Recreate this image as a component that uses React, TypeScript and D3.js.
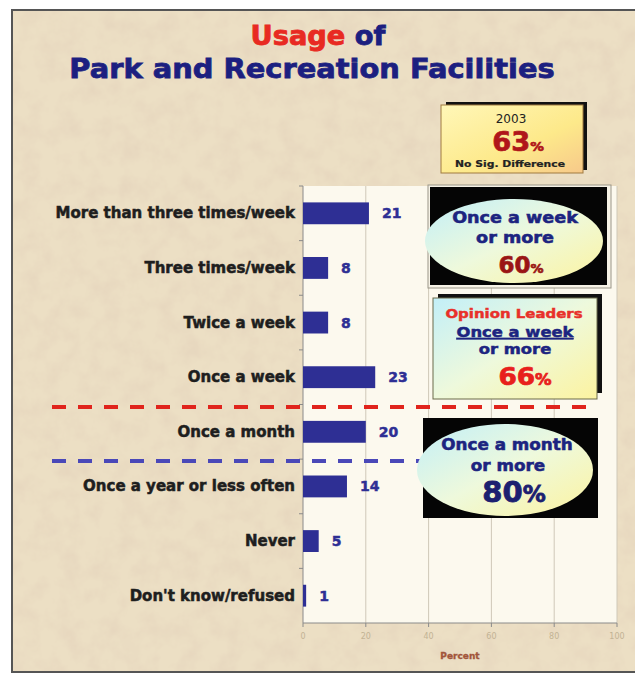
import React from "react";
import * as d3 from "d3";

const categories = [
  "More than three times/week",
  "Three times/week",
  "Twice a week",
  "Once a week",
  "Once a month",
  "Once a year or less often",
  "Never",
  "Don't know/refused",
];
const values = [21, 8, 8, 23, 20, 14, 5, 1];
const xTicks = [0, 20, 40, 60, 80, 100];

const W = 635;
const H = 675;
const plot = { left: 303, right: 617, top: 186, bottom: 623 };
const FONT = "DejaVu Sans, Verdana, sans-serif";

function T(props: {
  x: number; y: number; size: number; sx?: number; fill: string; weight?: number; sw?: number;
  anchor?: "start" | "middle" | "end"; deco?: string; children: React.ReactNode;
}) {
  const { x, y, size, sx = 1, fill, weight = 700, anchor = "middle", deco, children, sw } = props;
  const strokeW = sw !== undefined ? sw : weight >= 700 ? Math.min(0.7, size * 0.035) : 0;
  return (
    <text
      transform={`translate(${x},${y}) scale(${sx},1)`}
      textAnchor={anchor}
      fontSize={size}
      fill={fill}
      stroke={strokeW > 0 ? fill : "none"}
      strokeWidth={strokeW}
      fontFamily={FONT}
      fontWeight={weight}
      textDecoration={deco}
    >
      {children}
    </text>
  );
}

export default function App() {
  const x = d3.scaleLinear().domain([0, 100]).range([plot.left, plot.right]);
  const y = d3.scaleBand<string>().domain(categories).range([plot.top, plot.bottom]).paddingInner(0.6).paddingOuter(0.3);
  const yb = d3.scaleBand<string>().domain(categories).range([plot.top, plot.bottom]);
  const navy = "#2e2f94";

  return (
    <svg width={W} height={H} style={{ position: "absolute", left: 0, top: 0 }}>
      <defs>
        <filter id="parch" x="0" y="0" width="100%" height="100%">
          <feTurbulence type="fractalNoise" baseFrequency="0.05" numOctaves="4" seed="7" result="n" />
          <feColorMatrix type="matrix" values="0 0 0 0 0.74  0 0 0 0 0.6  0 0 0 0 0.47  0 0 0 0.8 -0.3" />
        </filter>
        <linearGradient id="gYellow" x1="0" y1="0" x2="1" y2="1">
          <stop offset="0" stopColor="#fff7b8" />
          <stop offset="0.6" stopColor="#fde98a" />
          <stop offset="1" stopColor="#f7c98a" />
        </linearGradient>
        <linearGradient id="gCyan" x1="0" y1="0" x2="1" y2="1">
          <stop offset="0" stopColor="#c2eff8" />
          <stop offset="0.5" stopColor="#eef9dc" />
          <stop offset="1" stopColor="#fcf3a0" />
        </linearGradient>
      </defs>
      <rect x={0} y={0} width={W} height={H} fill="#ffffff" />
      <rect x={12} y={10} width={W} height={662} fill="#ecdfc4" />
      <rect x={12} y={10} width={W} height={662} filter="url(#parch)" />
      <rect x={12} y={10} width={W} height={662} fill="none" stroke="#555" strokeWidth={2} />

      {/* title */}
      <text transform="translate(318,45) scale(1.05,1)" textAnchor="middle" fontSize={26} fontFamily={FONT} fontWeight={700} strokeWidth={0.8}>
        <tspan fill="#e82a22" stroke="#e82a22">Usage</tspan>
        <tspan fill="#1c1f80" stroke="#1c1f80"> of</tspan>
      </text>
      <T x={312} y={78} size={27} sx={1.07} fill="#1c1f80" sw={0.8}>Park and Recreation Facilities</T>

      {/* plot area */}
      <rect x={plot.left} y={plot.top} width={plot.right - plot.left} height={plot.bottom - plot.top} fill="#fcf9ee" />
      {xTicks.slice(1).map((t) => (
        <line key={t} x1={x(t)} x2={x(t)} y1={plot.top} y2={plot.bottom} stroke="#cfc8b8" strokeWidth={1} />
      ))}
      <line x1={plot.left} x2={plot.right} y1={plot.bottom} y2={plot.bottom} stroke="#8a8a8a" strokeWidth={1} />
      <line x1={plot.left} x2={plot.left} y1={plot.top} y2={plot.bottom} stroke="#8a8a8a" strokeWidth={1} />
      {categories.map((c) => (
        <line key={c} x1={plot.left - 4} x2={plot.left} y1={(yb(c) as number)} y2={(yb(c) as number)} stroke="#8a8a8a" />
      ))}
      {xTicks.map((t) => (
        <g key={t}>
          <line x1={x(t)} x2={x(t)} y1={plot.bottom} y2={plot.bottom + 4} stroke="#8a8a8a" />
          <text x={x(t)} y={plot.bottom + 16} textAnchor="middle" fontSize={8} fill="#c2b394" fontFamily={FONT}>
            {t}
          </text>
        </g>
      ))}
      <T x={460} y={659} size={9} fill="#a2553a">Percent</T>

      {/* bars */}
      {categories.map((c, i) => (
        <g key={c}>
          <rect x={x(0)} y={y(c)} width={x(values[i]) - x(0)} height={y.bandwidth()} fill={navy} />
          <T x={x(values[i]) + 13} y={(y(c) as number) + y.bandwidth() / 2 + 5} size={14} fill={navy} anchor="start">
            {values[i]}
          </T>
          <T x={295} y={(yb(c) as number) + yb.bandwidth() / 2 + 5} size={15} fill="#1e1e1e" anchor="end">
            {c}
          </T>
        </g>
      ))}

      {/* dashed separators */}
      <line x1={52} x2={590} y1={407} y2={407} stroke="#e0241c" strokeWidth={4} strokeDasharray="14 12" />
      <line x1={52} x2={420} y1={461} y2={461} stroke="#4a48b8" strokeWidth={4} strokeDasharray="14 12" />

      {/* 2003 box */}
      <rect x={446} y={102} width={141} height={68} fill="#111" />
      <rect x={441} y={105} width={142} height={68} fill="url(#gYellow)" stroke="#a07a40" strokeWidth={1} />
      <T x={511} y={123} size={12} fill="#222" weight={400}>2003</T>
      <text transform="translate(518,151) scale(1.05,1)" textAnchor="middle" fill="#b0161a" stroke="#b0161a" strokeWidth={0.7} fontFamily={FONT} fontWeight={700}>
        <tspan fontSize={26}>63</tspan>
        <tspan fontSize={13}>%</tspan>
      </text>
      <T x={510} y={167} size={8} sx={1.35} fill="#222" sw={0.2}>No Sig. Difference</T>

      {/* once a week oval */}
      <rect x={428} y={185} width={183} height={103} fill="#f6f2e6" stroke="#9a9688" strokeWidth={1} />
      <rect x={430} y={187} width={177} height={98} fill="#050505" />
      <ellipse cx={514} cy={241} rx={89} ry={42} fill="url(#gCyan)" />
      <T x={515} y={223} size={16} sx={1.1} fill="#1c2480">Once a week</T>
      <T x={515} y={243} size={16} sx={1.1} fill="#1c2480">or more</T>
      <text transform="translate(521,273)" textAnchor="middle" fill="#9a1515" stroke="#9a1515" strokeWidth={0.7} fontFamily={FONT} fontWeight={700}>
        <tspan fontSize={23}>60</tspan>
        <tspan fontSize={13}>%</tspan>
      </text>

      {/* opinion leaders */}
      <rect x={438} y={294} width={164} height={99} fill="#111" />
      <rect x={433} y={298} width={164} height={101} fill="url(#gCyan)" stroke="#6a6a4a" strokeWidth={1} />
      <T x={514} y={318} size={13} sx={1.15} fill="#e8302a">Opinion Leaders</T>
      <T x={515} y={337} size={14} sx={1.17} fill="#1c2480" deco="underline">Once a week</T>
      <T x={515} y={354} size={14} sx={1.17} fill="#1c2480">or more</T>
      <text transform="translate(525,385) scale(1.1,1)" textAnchor="middle" fill="#e8201c" stroke="#e8201c" strokeWidth={0.7} fontFamily={FONT} fontWeight={700}>
        <tspan fontSize={24}>66</tspan>
        <tspan fontSize={15}>%</tspan>
      </text>

      {/* once a month oval */}
      <rect x={423} y={418} width={175} height={100} fill="#050505" />
      <ellipse cx={505} cy={470} rx={88} ry={46} fill="url(#gCyan)" />
      <T x={507} y={450} size={16} sx={1.05} fill="#1c2480">Once a month</T>
      <T x={508} y={471} size={16} sx={1.05} fill="#1c2480">or more</T>
      <text transform="translate(514,502)" textAnchor="middle" fill="#1c2070" stroke="#1c2070" strokeWidth={0.8} fontFamily={FONT} fontWeight={700}>
        <tspan fontSize={29}>80</tspan>
        <tspan fontSize={23}>%</tspan>
      </text>
    </svg>
  );
}
